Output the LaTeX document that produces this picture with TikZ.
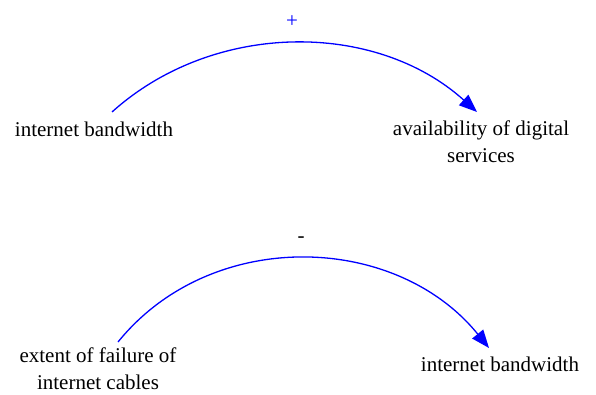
\documentclass[tikz,border=0pt]{standalone}
\usepackage{fontspec}
\setmainfont{Liberation Serif}
\usetikzlibrary{arrows.meta}
\definecolor{linkblue}{RGB}{0,0,255}
\tikzset{
  lbl/.style={inner sep=0pt, outer sep=0pt, align=center, font=\fontsize{21}{27}\selectfont, anchor=base},
  link/.style={draw=linkblue, line width=1.3pt, -{Triangle[length=18pt,width=14pt]}},
  pol/.style={inner sep=0pt, font=\fontsize{21}{24}\selectfont}
}
\begin{document}
\begin{tikzpicture}[x=1pt,y=1pt]
\useasboundingbox (0,0) rectangle (596,394);
% top link
\node[lbl] (tl) at (94,257) {internet bandwidth};
\node[lbl] (tr) at (481,231) {availability of digital\\services};
\coordinate (s1) at (112,282);
\coordinate (e1) at (477,282);
\draw[link] (s1) to[out=42,in=138,looseness=0.96] (e1);
\node[pol, text=linkblue] (p1) at (292,372) {+};
% bottom link
\node[lbl] (bl) at (98,5) {extent of failure of\\internet cables};
\node[lbl] (br) at (500,23) {internet bandwidth};
\coordinate (s2) at (118,52);
\coordinate (e2) at (489,46);
\draw[link] (s2) to[out=51,in=129,looseness=1.02] (e2);
\node[pol] (p2) at (301,154) {-};
\end{tikzpicture}
\end{document}
